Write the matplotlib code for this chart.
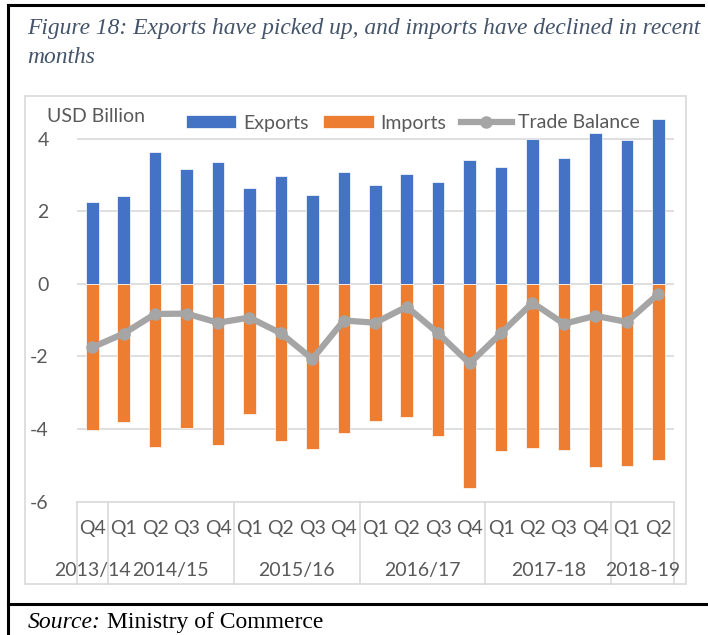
import matplotlib
matplotlib.use("Agg")
import matplotlib.pyplot as plt
from matplotlib.patches import Rectangle
from matplotlib.lines import Line2D

quarters = ["Q4", "Q1", "Q2", "Q3", "Q4", "Q1", "Q2", "Q3", "Q4", "Q1",
            "Q2", "Q3", "Q4", "Q1", "Q2", "Q3", "Q4", "Q1", "Q2"]
years = ["2013/14", "2014/15", "2015/16", "2016/17", "2017-18", "2018-19"]
year_pos = [0, 2.5, 6.5, 10.5, 14.5, 17.5]
year_bounds = [-0.5, 0.5, 4.5, 8.5, 12.5, 16.5, 18.5]
exports = [2.26, 2.42, 3.64, 3.16, 3.36, 2.63, 2.97, 2.46, 3.07, 2.71,
           3.02, 2.81, 3.41, 3.22, 4.00, 3.46, 4.15, 3.96, 4.55]
imports = [-4.03, -3.80, -4.48, -3.98, -4.43, -3.59, -4.34, -4.56, -4.11, -3.79,
           -3.68, -4.19, -5.61, -4.59, -4.53, -4.58, -5.04, -5.02, -4.84]
balance = [-1.75, -1.37, -0.83, -0.82, -1.07, -0.93, -1.36, -2.07, -1.01, -1.07,
           -0.63, -1.36, -2.19, -1.36, -0.52, -1.10, -0.88, -1.05, -0.28]

BLUE = "#4472C4"
ORANGE = "#ED7D31"
GRAY = "#A5A5A5"
TXT = "#595959"
GRID = "#D9D9D9"
TITLE = "#44546A"

W, H = 708, 635
fig = plt.figure(figsize=(W / 100, H / 100), dpi=100)
plt.rcParams['font.family'] = ['Lato', 'DejaVu Sans']
FS = 14


def fx(px):
    return px / W


def fy(py):
    return 1 - py / H


# outer frame lines (black)
fig.add_artist(Line2D([fx(8), fx(8)], [fy(5), fy(635)], color="black", lw=2.2))
fig.add_artist(Line2D([fx(8), fx(703)], [fy(5), fy(5)], color="black", lw=2.2))
fig.add_artist(Line2D([fx(8), fx(708)], [fy(604), fy(604)], color="black", lw=2.2))

# chart box
fig.add_artist(Rectangle((fx(25), fy(584)), fx(686) - fx(25), fy(96) - fy(584),
                         fill=False, edgecolor=GRID, lw=1.2))

# title
t1 = fig.text(fx(27), fy(34), "Figure 18: Exports have picked up, and imports have declined in recent",
              family="Liberation Serif", style="italic", color=TITLE, fontsize=16, va="baseline")
t2 = fig.text(fx(27), fy(63), "months",
              family="Liberation Serif", style="italic", color=TITLE, fontsize=16, va="baseline")
fig.canvas.draw()
w1 = t1.get_window_extent().width
fs_title = 16 * 676 / w1
t1.set_fontsize(fs_title)
t2.set_fontsize(fs_title)

# source
s1 = fig.text(fx(28), fy(628), "Source:", family="Liberation Serif", style="italic",
              fontsize=17, color="black", va="baseline")
fig.canvas.draw()
s1_end = s1.get_window_extent().x1
fig.text(fx(s1_end + 6), fy(628), "Ministry of Commerce", family="Liberation Serif",
         fontsize=17, color="black", va="baseline")

ax = fig.add_axes([fx(76.5), fy(501.7), fx(674) - fx(76.5), fy(115) - fy(501.7)])
x = list(range(len(quarters)))
b1 = ax.bar(x, exports, width=0.4, color=BLUE, edgecolor="white", linewidth=0.5, zorder=2, label="Exports")
b2 = ax.bar(x, imports, width=0.4, color=ORANGE, edgecolor="white", linewidth=0.5, zorder=2, label="Imports")
l1, = ax.plot(x, balance, color=GRAY, lw=4.5, marker="o", markersize=8, zorder=3, label="Trade Balance")

ax.set_xlim(-0.5, len(quarters) - 0.5)
ax.set_ylim(-6, 4.65)
ax.set_yticks([-6, -4, -2, 0, 2, 4])
ax.set_yticklabels(["-6", "-4", "-2", "0", "2", "4"])
ax.tick_params(axis="y", length=0, pad=20, labelsize=FS, labelcolor=TXT)
ax.set_xticks([])
for sp in ax.spines.values():
    sp.set_visible(False)
for v in [-4, -2, 0, 2, 4]:
    ax.axhline(v, color=GRID, lw=1.2, zorder=1)

# category axis box
ax.plot([-0.5, 18.5], [0, 0], transform=ax.get_xaxis_transform(), color=GRID, lw=1.2, clip_on=False)
for b in year_bounds:
    ax.plot([b, b], [0, -0.213], transform=ax.get_xaxis_transform(), color=GRID, lw=1.2, clip_on=False)
for i, q in enumerate(quarters):
    ax.text(i, -0.07, q, transform=ax.get_xaxis_transform(), ha="center", va="center",
            fontsize=FS, color=TXT)
for p, yl in zip(year_pos, years):
    ax.text(p, -0.179, yl, transform=ax.get_xaxis_transform(), ha="center", va="center",
            fontsize=FS, color=TXT)

fig.text(fx(47), fy(117), "USD Billion", fontsize=FS, color=TXT, va="center", ha="left")

fig.legend([b1, b2, l1], ["Exports", "Imports", "Trade Balance"],
           loc="center", bbox_to_anchor=(fx(413), fy(123)), ncol=3, frameon=False,
           fontsize=FS, labelcolor=TXT, handlelength=2.6, handleheight=0.65,
           handletextpad=0.35, columnspacing=0.75, borderaxespad=0)

fig.savefig("out.png", dpi=100)
